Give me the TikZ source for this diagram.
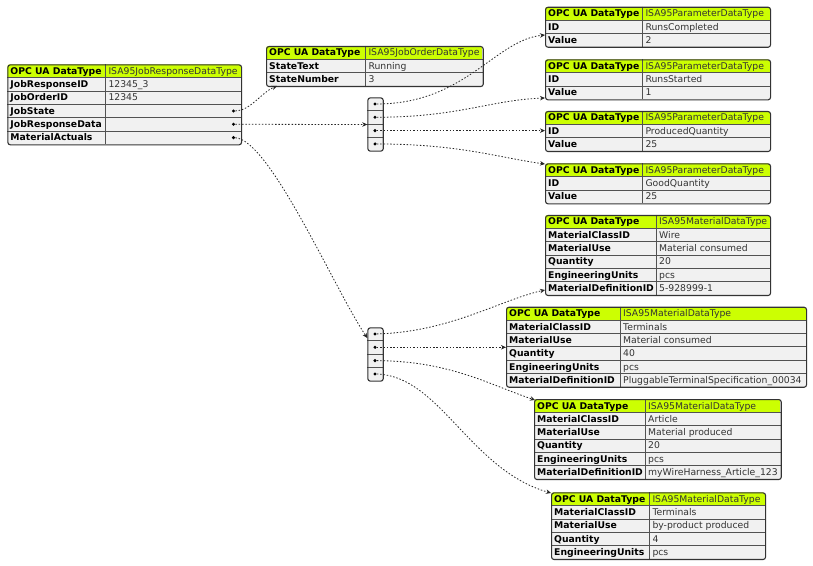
\documentclass[tikz,border=0pt]{standalone}
\usepackage{fontspec}
\setmainfont{DejaVu Sans}
\usetikzlibrary{arrows.meta,calc}
\definecolor{headfill}{RGB}{204,255,2}
\definecolor{rowfill}{HTML}{F1F1F1}
\definecolor{linecol}{HTML}{333333}
\newcommand\rh{13.33}
\tikzset{
  cellkey/.style={anchor=base west, inner sep=0, font=\fontsize{9.3}{11}\selectfont\bfseries, text=black},
  cellval/.style={anchor=base west, inner sep=0, font=\fontsize{9.3}{11}\selectfont, text=black!80},
  tableframe/.style={draw=linecol, line width=1.1bp, rounded corners=2.5bp, inner sep=0, anchor=north west},
  gridline/.style={draw=linecol!85, line width=0.6bp},
  dotn/.style={circle, fill=black, inner sep=0, minimum size=3.4bp},
  conn/.style={draw=black!85, line width=0.8bp, dash pattern=on 1.5bp off 1.8bp, -{Stealth[length=5bp,width=4.5bp]}},
}
% #1 name, #2 x0, #3 y0, #4 split x, #5 x1, #6 rows incl. header, #7 header value, #8 key/value list
\newcommand\mktable[8]{%
  \pgfmathsetmacro\tbot{#3+#6*\rh}%
  \pgfmathsetmacro\twid{#5-#2}%
  \pgfmathsetmacro\thei{#6*\rh}%
  \pgfmathtruncatemacro\tlast{#6-1}%
  \begin{scope}
    \clip[rounded corners=2.5bp] (#2,#3) rectangle (#5,\tbot);
    \fill[rowfill] (#2,#3) rectangle (#5,\tbot);
    \fill[headfill] (#2,#3) rectangle (#5,{#3+\rh});
  \end{scope}
  \foreach \j in {1,...,\tlast} {\draw[gridline] (#2,{#3+\j*\rh}) -- (#5,{#3+\j*\rh});}
  \draw[gridline] (#4,#3) -- (#4,\tbot);
  \node[tableframe, minimum width=\twid bp, minimum height=\thei bp] (#1) at (#2,#3) {};
  \node[cellkey] (#1-h) at ({#2+3},{#3+10}) {OPC UA DataType};
  \node[cellval] (#1-hv) at ({#4+3},{#3+10}) {#7};
  \foreach \k/\v [count=\i] in {#8} {
    \node[cellkey] (#1-k\i) at ({#2+3},{#3+\i*\rh+10}) {\k};
    \node[cellval] (#1-v\i) at ({#4+3},{#3+\i*\rh+10}) {\v};
  }
}
% #1 name, #2 x0, #3 y0
\newcommand\mkarray[3]{%
  \begin{scope}
    \clip[rounded corners=2.5bp] (#2,#3) rectangle ({#2+15.4},{#3+4*\rh});
    \fill[rowfill] (#2,#3) rectangle ({#2+15.4},{#3+4*\rh});
  \end{scope}
  \foreach \j in {1,2,3} {\draw[gridline] (#2,{#3+\j*\rh}) -- ({#2+15.4},{#3+\j*\rh});}
  \node[tableframe, minimum width=15.4bp, minimum height=53.32bp] (#1) at (#2,#3) {};
  \foreach \j in {1,...,4} {\node[dotn] (#1-\j) at ({#2+7.7},{#3+(\j-0.5)*\rh}) {};}
}
\begin{document}
\begin{tikzpicture}[x=1bp,y=-1bp]
\useasboundingbox (0,0) rectangle (813,566);
\fill[white] (0,0) rectangle (813,566);

\mktable{R}{7.3}{64.3}{105.3}{241}{6}{ISA95JobResponseDataType}
  {JobResponseID/12345\_3, JobOrderID/12345, JobState/{}, JobResponseData/{}, MaterialActuals/{}}
\node[dotn] (R-d3) at (233.5,{64.3+3.5*\rh}) {};
\node[dotn] (R-d4) at (233.5,{64.3+4.5*\rh}) {};
\node[dotn] (R-d5) at (233.5,{64.3+5.5*\rh}) {};

\mktable{O}{266}{46}{365.3}{482.7}{3}{ISA95JobOrderDataType}
  {StateText/Running, StateNumber/3}

\mkarray{A1}{367.3}{97.3}
\mkarray{A2}{367.3}{327.3}

\mktable{P1}{545}{6.7}{642.3}{770}{3}{ISA95ParameterDataType}{ID/RunsCompleted, Value/2}
\mktable{P2}{545}{59.3}{642.3}{770}{3}{ISA95ParameterDataType}{ID/RunsStarted, Value/1}
\mktable{P3}{545}{111}{642.3}{770}{3}{ISA95ParameterDataType}{ID/ProducedQuantity, Value/25}
\mktable{P4}{545}{163.3}{642.3}{770}{3}{ISA95ParameterDataType}{ID/GoodQuantity, Value/25}

\mktable{M1}{545}{215}{656}{770}{6}{ISA95MaterialDataType}
  {MaterialClassID/Wire, MaterialUse/Material consumed, Quantity/20, EngineeringUnits/pcs, MaterialDefinitionID/5-928999-1}
\mktable{M2}{506}{306.7}{620}{806}{6}{ISA95MaterialDataType}
  {MaterialClassID/Terminals, MaterialUse/Material consumed, Quantity/40, EngineeringUnits/pcs, MaterialDefinitionID/PluggableTerminalSpecification\_00034}
\mktable{M3}{534}{399}{645}{780.7}{6}{ISA95MaterialDataType}
  {MaterialClassID/Article, MaterialUse/Material produced, Quantity/20, EngineeringUnits/pcs, MaterialDefinitionID/myWireHarness\_Article\_123}
\mktable{M4}{551}{492.3}{649.3}{765}{5}{ISA95MaterialDataType}
  {MaterialClassID/Terminals, MaterialUse/by-product produced, Quantity/4, EngineeringUnits/pcs}

% connector ends
\coordinate (O-in) at (277,86);
\coordinate (A2-in) at (367.3,338);
\coordinate (P1-in) at (545,35);
\coordinate (P2-in) at (545,98);
\coordinate (P3-in) at (545,{97.3+2.5*\rh});
\coordinate (P4-in) at (545,164);
\coordinate (M1-in) at (545,290);
\coordinate (M2-in) at (506,{327.3+1.5*\rh});
\coordinate (M3-in) at (535,400);
\coordinate (M4-in) at (551,493);

\draw[conn] (R-d3) .. controls (250,111) and (262,92) .. (O-in);
\draw[conn] (R-d4) -- (A1.west);
\draw[conn] (R-d5) .. controls (270,140) and (335,290) .. (A2-in);

\draw[conn] (A1-1) .. controls (465,104) and (495,40) .. (P1-in);
\draw[conn] (A1-2) .. controls (460,117) and (490,100) .. (P2-in);
\draw[conn] (A1-3) -- (P3-in);
\draw[conn] (A1-4) .. controls (460,144) and (500,158) .. (P4-in);

\draw[conn] (A2-1) .. controls (450,332) and (500,300) .. (M1-in);
\draw[conn] (A2-2) -- (M2-in);
\draw[conn] (A2-3) .. controls (450,361) and (490,385) .. (M3-in);
\draw[conn] (A2-4) .. controls (440,376) and (470,470) .. (M4-in);
\end{tikzpicture}
\end{document}
